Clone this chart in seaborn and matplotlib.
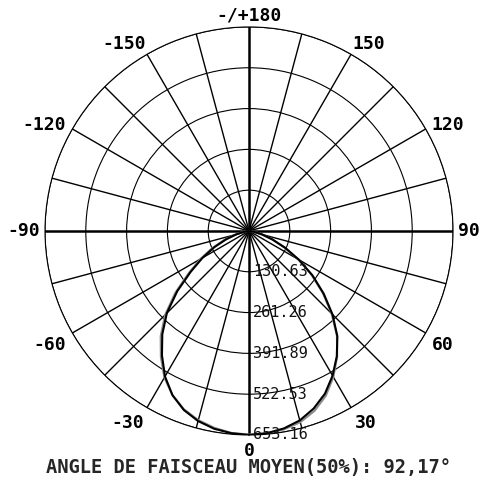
import numpy as np
import pandas as pd
import matplotlib
matplotlib.use("Agg")
import matplotlib.pyplot as plt
import matplotlib.transforms as mtransforms
import seaborn as sns

# ---- data ----
angles_deg = [-90, -85, -80, -75, -70, -65, -60, -55, -50, -45, -40, -35, -30, -25, -20, -15, -10, -5,
              0, 5, 10, 15, 20, 25, 30, 35, 40, 45, 50, 55, 60, 65, 70, 75, 80, 85, 90]
c0_values = [0, 6, 18, 42, 78, 122, 172, 228, 300, 372, 432, 486, 538, 580, 610, 630, 643, 650,
             653, 650, 642, 628, 605, 575, 535, 490, 440, 378, 312, 248, 185, 128, 80, 44, 19, 6, 0]
c90_values = [0, 7, 20, 46, 84, 130, 180, 236, 308, 380, 440, 492, 542, 580, 608, 627, 640, 649,
              652, 651, 645, 634, 613, 582, 540, 492, 438, 374, 308, 244, 182, 126, 79, 43, 19, 6, 0]
ring_values = [130.63, 261.26, 391.89, 522.53, 653.16]
ring_labels = ["130.63", "261.26", "391.89", "522.53", "653.16"]
theta_ticks_deg = list(range(0, 360, 15))
theta_label_deg = [0, 30, 60, 90, 120, 150, 180, 210, 240, 270, 300, 330]
theta_label_text = ["0", "30", "60", "90", "120", "150", "-/+180", "-150", "-120", "-90", "-60", "-30"]
title_text = "ANGLE DE FAISCEAU MOYEN(50%): 92,17°"

sns.set_theme(style="white")
plt.rcParams["font.family"] = ["DejaVu Sans Mono", "DejaVu Sans"]

fig = plt.figure(figsize=(4.84, 4.78), dpi=100)
fig.patch.set_facecolor("white")
ax = fig.add_axes([0.093, 0.090, 0.843, 0.8536], projection="polar")
ax.set_facecolor("white")
ax.set_theta_zero_location("S")
ax.set_theta_direction(1)

df = pd.concat([
    pd.DataFrame({"theta": np.deg2rad(angles_deg), "r": c90_values, "plane": "C90"}),
    pd.DataFrame({"theta": np.deg2rad(angles_deg), "r": c0_values, "plane": "C0"}),
])
sns.lineplot(data=df, x="theta", y="r", hue="plane", palette={"C90": "#8c8c8c", "C0": "#000000"},
             sort=False, estimator=None, legend=False, linewidth=1.5, ax=ax)
ax.set_xlabel("")
ax.set_ylabel("")

rmax = ring_values[-1]
ax.set_rlim(0, rmax)
ax.set_yticks(ring_values)
ax.set_yticklabels([])
ax.set_xticks(np.deg2rad(theta_ticks_deg))
ax.set_xticklabels([])

ax.grid(True)
ax.yaxis.grid(True, color="black", linewidth=0.8)
ax.xaxis.grid(True, color="black", linewidth=1.0)
for d, gl in zip(theta_ticks_deg, ax.xaxis.get_gridlines()):
    if d % 90 == 0:
        gl.set_linewidth(1.8)
ax.spines["polar"].set_color("black")
ax.spines["polar"].set_linewidth(0.8)

# angle labels just outside the outer ring, anchored by direction
for d, lab in zip(theta_label_deg, theta_label_text):
    t = np.deg2rad(d)
    sx, sy = np.sin(t), -np.cos(t)
    ha = "left" if sx > 0.3 else ("right" if sx < -0.3 else "center")
    va = "bottom" if sy > 0.8 else ("center" if sy > -0.3 else "top")
    p = 2 if sy > 0.8 else (5 if abs(sx) > 0.99 else 7)
    tr = mtransforms.offset_copy(ax.transData, fig=fig, x=p * sx, y=p * sy, units="dots")
    ax.text(t, rmax, lab, transform=tr, ha=ha, va=va, fontsize=13,
            fontweight="bold", color="black", clip_on=False)

offset = mtransforms.offset_copy(ax.transData, fig=fig, x=4, y=0, units="dots")
for v, lab in zip(ring_values, ring_labels):
    ax.text(0, v, lab, transform=offset, ha="left", va="center", fontsize=11, color="#111111",
            zorder=5)

fig.text(0.514, 1 - 468 / 478, title_text, ha="center", va="center",
         family="DejaVu Sans Mono", fontweight="bold", fontsize=13.5)

fig.savefig("out.png", dpi=100)
